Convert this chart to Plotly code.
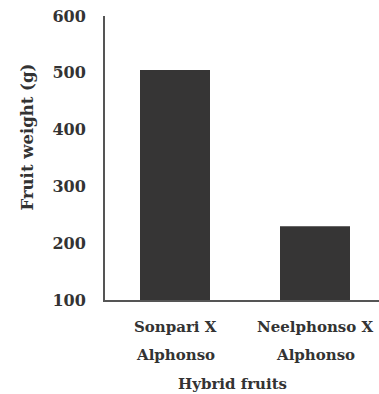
import plotly.graph_objects as go

categories = ["Sonpari X Alphonso", "Neelphonso X Alphonso"]
label_line1 = ["Sonpari X", "Neelphonso X"]
label_line2 = ["Alphonso", "Alphonso"]
fruit_weight = [505, 230]
y_ticks = [100, 200, 300, 400, 500, 600]

FONT = "DejaVu Serif"
TXT = "#333333"

W, H = 379, 394
ML, MT, MB, MR = 105, 16, 94, 0
PW = W - ML - MR
PH = H - MT - MB

def px_x(fx):
    return (fx - ML) / PW

def px_y(fy):
    return (H - MB - fy) / PH

fig = go.Figure()
fig.add_trace(go.Bar(
    x=list(range(len(categories))),
    y=fruit_weight,
    base=0,
    width=0.5,
    marker=dict(color="#363535", line=dict(width=0)),
    hovertext=categories,
))

fig.update_layout(
    width=W, height=H,
    margin=dict(l=ML, r=MR, t=MT, b=MB),
    paper_bgcolor="white", plot_bgcolor="white",
    showlegend=False,
    font=dict(family=FONT, color=TXT),
    xaxis=dict(
        range=[-0.5, -0.5 + PW / 140], showticklabels=False, showgrid=False,
        zeroline=False, showline=True, linecolor="#555555", linewidth=2,
        ticks="",
    ),
    yaxis=dict(
        range=[100, 600], tickvals=y_ticks, showgrid=False, zeroline=False,
        showline=True, linecolor="#555555", linewidth=2,
        ticks="outside", ticklen=14, tickcolor="rgba(0,0,0,0)",
        ticklabeloverflow="allow",
        tickfont=dict(family=FONT, size=16, color=TXT, weight="bold"),
    ),
)

for i, (l1, l2) in enumerate(zip(label_line1, label_line2)):
    fig.add_annotation(x=i, y=px_y(327), xref="x", yref="paper", text=l1,
                       showarrow=False, yanchor="middle",
                       font=dict(family=FONT, size=15, color=TXT, weight="bold"))
    fig.add_annotation(x=i, y=px_y(355), xref="x", yref="paper", text=l2,
                       showarrow=False, yanchor="middle",
                       font=dict(family=FONT, size=15, color=TXT, weight="bold"))

fig.add_annotation(x=px_x(232), y=px_y(384), xref="paper", yref="paper",
                   text="Hybrid fruits", showarrow=False, yanchor="middle",
                   font=dict(family=FONT, size=15, color=TXT, weight="bold"))

fig.add_annotation(x=px_x(27), y=px_y(137.5), xref="paper", yref="paper",
                   text="Fruit weight (g)", showarrow=False, textangle=-90,
                   xanchor="center", yanchor="middle",
                   font=dict(family=FONT, size=16.5, color=TXT, weight="bold"))

fig.write_html(
    "out.html",
    config={"displayModeBar": False},
    post_script="document.body.style.margin='0';document.body.style.overflow='hidden';",
)
